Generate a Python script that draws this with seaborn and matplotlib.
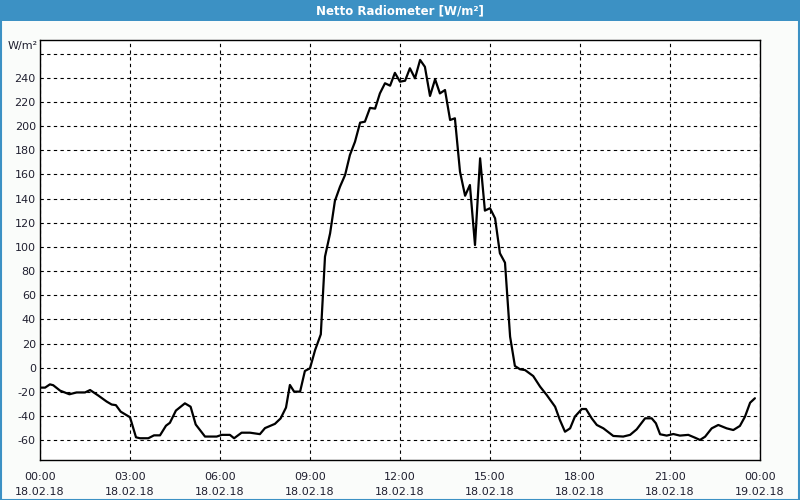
import matplotlib
matplotlib.use("Agg")
import matplotlib.pyplot as plt
from matplotlib.patches import Rectangle
from matplotlib.ticker import MultipleLocator, FixedLocator
import seaborn as sns
import pandas as pd

# ---- data (hours since 18.02.18 00:00, W/m²) ----
hours = [0.0, 0.17, 0.33, 0.44, 0.67, 0.98, 1.22, 1.5, 1.67, 1.94,
         2.22, 2.39, 2.53, 2.69, 3.0, 3.2, 3.33, 3.61, 3.8, 4.0,
         4.2, 4.33, 4.53, 4.83, 5.02, 5.19, 5.5, 5.89, 6.06, 6.33,
         6.47, 6.72, 7.0, 7.33, 7.5, 7.83, 8.02, 8.2, 8.33, 8.47,
         8.67, 8.83, 9.0, 9.17, 9.36, 9.5, 9.67, 9.83, 10.0, 10.17,
         10.33, 10.5, 10.67, 10.83, 11.0, 11.17, 11.33, 11.5, 11.67, 11.83,
         12.0, 12.17, 12.33, 12.5, 12.67, 12.83, 13.0, 13.17, 13.33, 13.5,
         13.67, 13.83, 14.0, 14.17, 14.33, 14.5, 14.67, 14.83, 15.0, 15.17,
         15.33, 15.5, 15.67, 15.83, 16.0, 16.17, 16.44, 16.67, 16.89, 17.17,
         17.33, 17.5, 17.67, 17.83, 18.06, 18.2, 18.39, 18.56, 18.78, 19.11,
         19.44, 19.67, 19.89, 20.17, 20.39, 20.53, 20.67, 20.89, 21.11, 21.33,
         21.61, 21.83, 22.0, 22.17, 22.39, 22.61, 22.89, 23.11, 23.33, 23.5,
         23.67, 23.83]
values = [-16.5, -16.5, -13.8, -14.5, -19.0, -22.0, -20.5, -20.5, -18.5, -23.0,
          -28.0, -30.5, -31.0, -36.4, -41.0, -57.6, -58.4, -58.4, -56.0, -56.0,
          -48.0, -45.6, -35.5, -29.5, -32.3, -47.0, -57.0, -57.0, -55.6, -55.6,
          -58.4, -53.8, -53.8, -55.0, -50.0, -46.5, -42.0, -33.0, -14.3, -19.8,
          -19.8, -2.7, -0.5, 14.6, 27.6, 91.9, 111.2, 138.0, 149.8, 159.5,
          176.0, 187.0, 202.8, 203.6, 215.0, 214.4, 227.0, 235.4, 233.4, 244.0,
          236.7, 237.5, 247.8, 239.5, 254.7, 249.0, 224.9, 238.7, 227.0, 229.8,
          205.0, 206.4, 162.2, 142.3, 151.2, 101.5, 173.3, 130.0, 132.0, 123.6,
          94.7, 86.9, 25.7, 1.4, -1.3, -2.0, -6.9, -15.7, -22.6, -32.3,
          -43.3, -53.0, -50.2, -40.5, -34.2, -34.2, -41.9, -47.4, -50.2, -56.5,
          -57.0, -55.6, -51.0, -41.9, -41.9, -46.0, -55.1, -56.2, -54.9, -56.2,
          -55.6, -57.9, -59.8, -57.1, -50.2, -47.4, -50.2, -51.6, -48.2, -40.5,
          -29.0, -25.3]

xtick_pos = [0, 3, 6, 9, 12, 15, 18, 21, 24]
xtick_labels = ["00:00\n18.02.18", "03:00\n18.02.18", "06:00\n18.02.18",
                "09:00\n18.02.18", "12:00\n18.02.18", "15:00\n18.02.18",
                "18:00\n18.02.18", "21:00\n18.02.18", "00:00\n19.02.18"]
ytick_pos = list(range(-60, 261, 20))
ytick_labels = [str(v) for v in range(-60, 241, 20)] + [""]

title = "Netto Radiometer [W/m²]"
unit = "W/m²"

df = pd.DataFrame({"hour": hours, "value": values})

sns.set_style("white")
plt.rcParams["font.family"] = ["DejaVu Sans"]

BG = "#fafcfa"
BLUE = "#3c91c4"
TXT = "#202030"

fig = plt.figure(figsize=(8, 5), dpi=100, facecolor=BG)
ax = fig.add_axes([40 / 800, 1 - 460 / 500, 720 / 800, 420 / 500])
ax.set_facecolor("white")

sns.lineplot(data=df, x="hour", y="value", ax=ax, color="black",
             linewidth=1.6, zorder=3)

ax.set_xlim(0, 24)
ax.set_ylim(-76.4, 271.2)
ax.set_xlabel("")
ax.set_ylabel("")

ax.xaxis.set_major_locator(FixedLocator(xtick_pos))
ax.set_xticklabels(xtick_labels)
ax.xaxis.set_minor_locator(MultipleLocator(1))
ax.set_yticks(ytick_pos)
ax.set_yticklabels(ytick_labels)

ax.tick_params(axis="x", which="major", direction="out", length=4, width=0.8,
               color="black", labelsize=8, labelcolor=TXT, pad=5)
ax.tick_params(axis="x", which="minor", direction="out", length=3, width=0.8,
               color="black")
ax.tick_params(axis="y", which="major", length=0, labelsize=8,
               labelcolor=TXT, pad=3)
for lbl in ax.get_xticklabels():
    lbl.set_linespacing(1.6)

ax.grid(True, axis="both", which="major", color="black", linewidth=0.8,
        linestyle=(0, (3, 3)))
for s in ax.spines.values():
    s.set_color("black")
    s.set_linewidth(1.0)

# unit label
fig.text(23 / 800, 1 - 46 / 500, unit, ha="center", va="center",
         fontsize=8, color=TXT)

# title bar and frame
fig.patches.append(Rectangle((0, 1 - 21 / 500), 1, 21 / 500,
                             transform=fig.transFigure, facecolor=BLUE,
                             edgecolor="none", zorder=0))
fig.patches.append(Rectangle((0.5 / 800, 0.5 / 500), 798.5 / 800, 498.5 / 500,
                             transform=fig.transFigure, facecolor="none",
                             edgecolor=BLUE, linewidth=1.5, zorder=5))
fig.text(0.5, 1 - 10.5 / 500, title, ha="center", va="center",
         fontsize=8.5, fontweight="bold", color="white")

fig.savefig("out.png", dpi=100, facecolor=BG)
